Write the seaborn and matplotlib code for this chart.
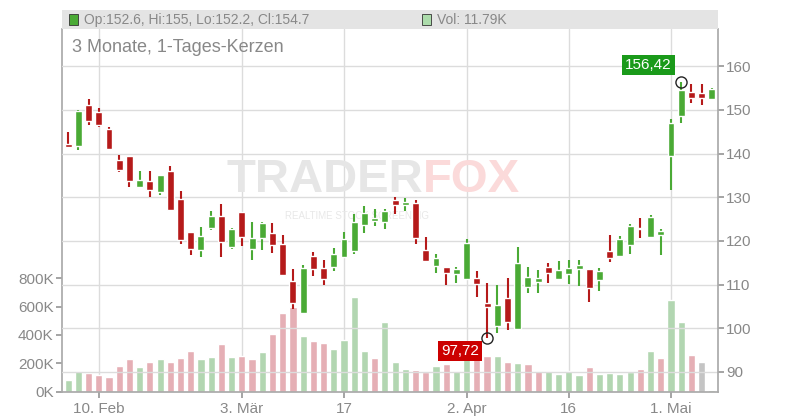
import numpy as np
import pandas as pd
import matplotlib
matplotlib.use("Agg")
import matplotlib.pyplot as plt
import seaborn as sns

# OHLC
opens = [142.2, 141.8, 151.1, 149.5, 145.6, 138.5, 139.4, 132.4, 133.7, 131.2,
         136.0, 129.6, 122.0, 118.0, 123.0, 125.7, 118.7, 126.6, 118.1, 120.7,
         121.8, 119.3, 110.8, 103.6, 116.5, 113.8, 114.1, 116.4, 117.7, 123.7,
         124.6, 124.4, 129.3, 128.3, 128.7, 117.9, 114.3, 114.0, 112.5, 111.3,
         111.5, 105.8, 100.4, 106.9, 99.9, 109.5, 110.6, 114.0, 111.3, 112.5,
         113.6, 113.6, 111.1, 117.7, 116.6, 119.1, 123.0, 121.0, 121.4, 139.5,
         148.6, 154.1, 153.8, 152.6]
highs = [145.0, 149.9, 152.6, 150.4, 146.0, 139.6, 139.4, 136.0, 136.0, 135.1,
         137.1, 131.4, 122.0, 123.2, 126.8, 128.4, 122.9, 126.6, 124.3, 124.3,
         124.1, 121.3, 113.6, 114.5, 117.4, 115.6, 118.4, 122.0, 126.1, 128.0,
         127.3, 127.3, 130.0, 129.8, 129.3, 120.9, 117.0, 114.0, 114.0, 120.4,
         113.1, 110.4, 109.9, 111.5, 118.7, 114.0, 113.3, 114.9, 115.4, 115.6,
         115.6, 113.6, 113.8, 121.3, 121.1, 123.9, 125.2, 125.9, 122.7, 147.9,
         156.42, 155.9, 155.9, 155.0]
lows = [141.4, 140.8, 146.6, 146.1, 141.0, 135.8, 132.4, 132.2, 130.1, 130.6,
        126.9, 119.3, 116.8, 116.4, 122.6, 116.4, 118.2, 118.9, 115.7, 118.0,
        117.3, 112.3, 104.4, 103.6, 112.0, 110.0, 113.1, 116.2, 117.1, 121.9,
        123.5, 122.8, 126.2, 126.9, 119.3, 115.2, 112.7, 110.0, 110.4, 111.1,
        107.2, 97.72, 98.8, 99.7, 99.9, 108.1, 108.1, 110.4, 111.3, 110.2,
        109.7, 106.1, 108.6, 115.2, 116.6, 117.1, 120.7, 120.7, 116.8, 131.7,
        147.0, 151.6, 151.1, 152.2]
closes = [141.5, 149.7, 147.5, 146.6, 141.1, 136.3, 133.8, 133.9, 131.7, 135.1,
          127.1, 120.2, 118.1, 121.1, 125.7, 119.7, 122.7, 121.0, 120.6, 124.1,
          119.1, 112.3, 105.8, 113.8, 113.6, 111.3, 117.0, 120.4, 124.3, 126.4,
          125.2, 126.8, 128.3, 128.9, 120.7, 115.4, 116.1, 112.7, 113.6, 119.5,
          110.2, 104.9, 105.3, 101.5, 115.0, 111.7, 111.6, 112.7, 113.3, 113.8,
          114.5, 109.3, 113.1, 116.1, 120.4, 123.4, 122.8, 125.5, 122.3, 147.0,
          154.5, 152.7, 152.7, 154.7]
volumes_k = [84, 147, 133, 119, 105, 182, 232, 175, 211, 232,
             211, 239, 288, 232, 246, 337, 246, 253, 232, 281,
             407, 554, 596, 393, 358, 344, 302, 365, 667, 288,
             239, 491, 211, 161, 154, 140, 182, 196, 147, 253,
             253, 253, 253, 211, 204, 196, 147, 147, 126, 147,
             119, 175, 126, 133, 126, 140, 161, 288, 239, 646,
             491, 260, 211, 11.79]

date_ticks = [3, 17, 27, 39, 49, 59]
date_labels = ["10. Feb", "3. Mär", "17", "2. Apr", "16", "1. Mai"]
price_ticks = [90, 100, 110, 120, 130, 140, 150, 160]
vol_ticks = [0, 200, 400, 600, 800]
vol_labels = ["0K", "200K", "400K", "600K", "800K"]

GREEN, RED = "#4aaa35", "#b51a1a"
VOL_COL = {"up": "#acdcab", "down": "#eea6ae", "flat": "#c4c4c4"}

sns.set_theme(style="white")
plt.rcParams["font.family"] = ["Liberation Sans", "DejaVu Sans"]

n = len(closes)
idx = np.arange(n)
trend = ["up"]
for i in range(1, n):
    d = closes[i] - closes[i - 1]
    trend.append("up" if d > 0 else ("down" if d < 0 else "flat"))
vol_df = pd.DataFrame({"i": idx, "vol": volumes_k, "trend": trend})

fig = plt.figure(figsize=(8, 4.2), dpi=100)
ax_v = fig.add_axes([0.0775, 0.0667, 0.82, 0.864])
sns.barplot(data=vol_df, x="i", y="vol", hue="trend", palette=VOL_COL,
            native_scale=True, dodge=False, width=0.7, legend=False,
            ax=ax_v, zorder=2)
ax_v.set_ylim(0, 2547)
ax_v.set_yticks(vol_ticks)
ax_v.set_yticklabels(vol_labels)
ax_v.set_xlim(-0.6, n - 0.4)
ax_v.set_xlabel("")
ax_v.set_ylabel("")
ax_v.set_xticks(date_ticks)
ax_v.set_xticklabels(date_labels)
ax_v.tick_params(axis="y", left=True, length=4, color="#999", labelsize=11,
                 labelcolor="#888", pad=2)
ax_v.tick_params(axis="x", bottom=True, length=4, color="#999", labelsize=11,
                 labelcolor="#888", pad=3)
for s in ["top", "right"]:
    ax_v.spines[s].set_visible(False)
ax_v.spines["left"].set_color("#aaa")
ax_v.spines["bottom"].set_color("#aaa")
for t in date_ticks:
    ax_v.axvline(t, color="#dcdcdc", lw=1, zorder=0)

ax_p = ax_v.twinx()
ax_p.set_ylim(85.4, 168.5)
ax_p.set_yticks(price_ticks)
ax_p.tick_params(axis="y", right=True, length=4, color="#999", labelsize=11,
                 labelcolor="#888", pad=2)
for s in ["top", "left", "bottom"]:
    ax_p.spines[s].set_visible(False)
ax_p.spines["right"].set_color("#aaa")
for p in price_ticks:
    ax_p.axhline(p, color="#dcdcdc", lw=1, zorder=1)

# Wasserzeichen
ax_p.text(0.55, 0.585, "TRADER", transform=ax_p.transAxes, ha="right",
          va="center", fontsize=34, fontweight="bold", color="#e6e6e6", zorder=1)
ax_p.text(0.55, 0.585, "FOX", transform=ax_p.transAxes, ha="left",
          va="center", fontsize=34, fontweight="bold", color="#fbdada", zorder=1)
ax_p.text(0.45, 0.485, "REALTIME STOCK SCREENING", transform=ax_p.transAxes,
          ha="center", va="center", fontsize=7, color="#e8e8e8", zorder=1)

for i in range(n):
    c = GREEN if closes[i] >= opens[i] else RED
    ax_p.vlines(i, lows[i], highs[i], color=c, lw=1.5, zorder=3)
    lo, hi = sorted([opens[i], closes[i]])
    ax_p.bar(i, max(hi - lo, 0.25), bottom=lo, width=0.68, color=c, zorder=4)

imax = int(np.argmax(highs))
imin = int(np.argmin(lows))
ax_p.plot(imax, highs[imax], "o", ms=8, mfc="none", mec="#222", mew=1, zorder=5)
ax_p.plot(imin, lows[imin], "o", ms=8, mfc="none", mec="#222", mew=1, zorder=5)
ax_p.annotate(f"{highs[imax]:.2f}".replace(".", ","), (imax, highs[imax]),
              xytext=(-7, 7), textcoords="offset points", ha="right", va="bottom",
              fontsize=11, color="white", zorder=6,
              bbox=dict(boxstyle="square,pad=0.2", fc="#1a9a1a", ec="none"))
ax_p.annotate(f"{lows[imin]:.2f}".replace(".", ","), (imin, lows[imin]),
              xytext=(-6, -4), textcoords="offset points", ha="right", va="top",
              fontsize=11, color="white", zorder=6,
              bbox=dict(boxstyle="square,pad=0.2", fc="#cc0000", ec="none"))

# Kopfzeile
fig.patches.append(plt.Rectangle((62 / 800, 1 - 29 / 420), 656 / 800, 19 / 420,
                                 transform=fig.transFigure, fc="#e4e4e4", ec="none"))
fig.patches.append(plt.Rectangle((69 / 800, 1 - 25 / 420), 9 / 800, 11 / 420,
                                 transform=fig.transFigure, fc=GREEN, ec="#333", lw=0.6))
fig.text(84 / 800, 1 - 20 / 420, f"Op:{opens[-1]:g}, Hi:{highs[-1]:g}, Lo:{lows[-1]:g}, Cl:{closes[-1]:g}",
         fontsize=10, color="#888", va="center")
fig.patches.append(plt.Rectangle((422 / 800, 1 - 25 / 420), 9 / 800, 11 / 420,
                                 transform=fig.transFigure, fc=VOL_COL["up"], ec="#333", lw=0.6))
fig.text(437 / 800, 1 - 20 / 420, f"Vol: {volumes_k[-1]}K", fontsize=10, color="#888", va="center")
fig.text(72 / 800, 1 - 47 / 420, "3 Monate, 1-Tages-Kerzen", fontsize=13,
         color="#888", va="center")

fig.savefig("out.png", dpi=100)
